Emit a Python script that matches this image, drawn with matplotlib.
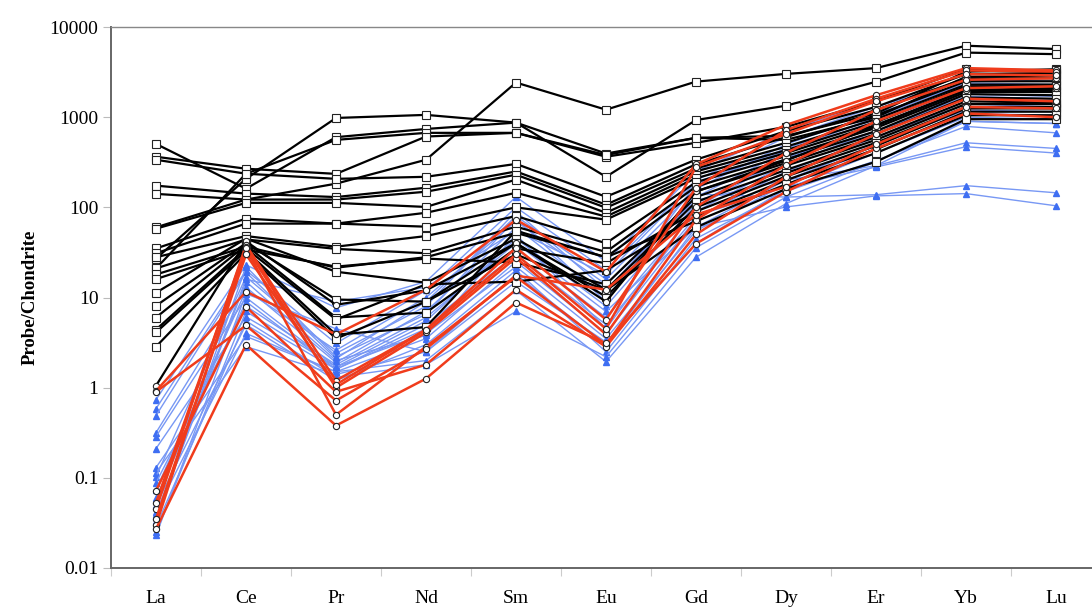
import numpy as np
import matplotlib.pyplot as plt
from matplotlib.ticker import NullLocator

elements = ['La', 'Ce', 'Pr', 'Nd', 'Sm', 'Eu', 'Gd', 'Dy', 'Er', 'Yb', 'Lu']

# black group (square markers)
black_series = [
    [60, 122, 183, 337, 2420, 1210, 2480, 3020, 3500, 6200, 5700],
    [27, 207, 980, 1060, 870, 218, 930, 1340, 2470, 5200, 5000],
    [505, 161, 600, 740, 870, 395, 590, 620, 1100, 3200, 3400],
    [21, 236, 560, 670, 670, 364, 520, 780, 1500, 3400, 3300],
    [364, 268, 235, 610, 670, 380, 590, 560, 1000, 2800, 2900],
    [337, 236, 207, 218, 303, 131, 338, 700, 1300, 3000, 3100],
    [174, 142, 130, 165, 250, 107, 300, 600, 1200, 2700, 2700],
    [141, 122, 122, 149, 230, 99, 270, 520, 1050, 2500, 2500],
    [58, 112, 112, 101, 203, 87, 250, 470, 950, 2300, 2300],
    [35, 75, 66, 87, 145, 79, 230, 430, 880, 2200, 2200],
    [31, 66, 66, 61, 100, 73, 210, 400, 820, 2000, 2000],
    [28, 48, 36.6, 48, 80, 40, 190, 370, 760, 1900, 1900],
    [21, 44, 34.6, 31, 61, 32, 170, 340, 700, 1800, 1750],
    [18, 36.6, 21.4, 28, 52, 28, 150, 310, 650, 1650, 1600],
    [16, 34, 22, 27, 24.4, 14, 130, 290, 600, 1500, 1450],
    [11.3, 45, 19.3, 14.6, 45, 12.2, 115, 260, 560, 1400, 1400],
    [8.1, 40, 9.5, 9, 40, 10.2, 100, 240, 520, 1300, 1300],
    [6.0, 38, 6.0, 6.8, 35, 24, 90, 220, 480, 1250, 1250],
    [4.4, 35, 5.7, 14, 15, 20, 80, 200, 440, 1150, 1150],
    [4.1, 33, 3.87, 4.7, 55, 28, 70, 180, 400, 1050, 1050],
    [2.85, 31, 3.5, 9, 30, 12, 60, 160, 320, 950, 950],
]
# black line with round markers
black_round = [1.05, 42, 8.3, 12, 40, 9, 150, 330, 800, 2000, 2100]

# red group (round markers)
red_series = [
    [0.92, 11.6, 3.9, 12.2, 73, 19.3, 300, 820, 1750, 3500, 3300],
    [0.045, 38, 1.2, 4.4, 35.6, 5.7, 165, 720, 1600, 3300, 3200],
    [0.053, 36, 1.0, 4.1, 27.6, 3.9, 101, 400, 1200, 2600, 2700],
    [0.03, 35, 0.5, 2.85, 17, 3.0, 73, 295, 900, 2100, 2200],
    [0.072, 7.9, 0.9, 1.8, 12.2, 2.85, 50, 218, 650, 1600, 1500],
    [0.027, 3.0, 0.38, 1.26, 8.8, 3.1, 39.5, 149, 450, 1100, 1000],
    [0.9, 4.9, 0.72, 2.7, 17.5, 12.2, 83, 170, 500, 1300, 1250],
    [0.035, 30, 1.08, 4.4, 30, 4.5, 280, 650, 1500, 3000, 2900],
]

# blue group (triangle markers)
blue_series = [
    [0.736, 23, 7.7, 15, 131, 25, 250, 700, 1500, 3000, 2900],
    [0.585, 20, 3.1, 12, 100, 20, 200, 600, 1300, 2600, 2500],
    [0.49, 19, 2.1, 9, 80, 16, 160, 500, 1100, 2300, 2200],
    [0.317, 13, 1.9, 7, 60, 10, 130, 420, 900, 2000, 1900],
    [0.287, 10, 1.7, 5.5, 45, 8, 110, 350, 800, 1800, 1700],
    [0.211, 6.1, 1.6, 4.5, 35, 6, 90, 300, 700, 1600, 1500],
    [0.13, 3.7, 1.5, 3.5, 25, 4, 75, 250, 600, 1400, 1300],
    [0.114, 2.85, 1.4, 2.5, 18, 3, 60, 200, 500, 1200, 1150],
    [0.103, 17, 2.4, 8, 90, 12, 140, 130, 138, 174, 145],
    [0.088, 8, 1.8, 6, 40, 7, 60, 101, 134, 142, 104],
    [0.074, 12, 2.6, 10, 70, 14, 120, 200, 290, 520, 450],
    [0.06, 9, 1.6, 5, 30, 5, 80, 170, 280, 470, 400],
    [0.05, 5, 1.2, 3, 20, 2.5, 45, 150, 330, 790, 670],
    [0.042, 4, 1.5, 2, 12, 1.94, 28, 110, 290, 900, 850],
    [0.037, 15, 2.0, 3.8, 50, 4.5, 100, 350, 700, 1700, 1600],
    [0.033, 22, 2.2, 6.5, 75, 9, 180, 450, 950, 2100, 2000],
    [0.029, 5.5, 1.3, 1.8, 7, 2.2, 35.7, 130, 320, 900, 850],
    [0.025, 7, 1.7, 4, 22, 3.5, 55, 180, 450, 1100, 1050],
    [0.023, 11, 4.5, 2.5, 15, 3.2, 40, 160, 400, 1000, 950],
    [0.04, 16, 9, 13, 55, 18, 190, 420, 1000, 2400, 2300],
]

yticks = [0.01, 0.1, 1, 10, 100, 1000, 10000]
ytick_labels = ['0.01', '0.1', '1', '10', '100', '1000', '10000']

plt.rcParams['font.family'] = ['Liberation Serif', 'DejaVu Serif']

fig = plt.figure(figsize=(10.92, 6.12), dpi=100)
ax = fig.add_axes([111/1092, 44/612, 990/1092, 541/612])

x = np.arange(len(elements))

for s in blue_series:
    ax.plot(x, s, '-', color='#7898f4', lw=1.0, marker='^', ms=4.5,
            mfc='#3e6ef2', mec='#3e6ef2', zorder=2)

for s in black_series:
    ax.plot(x, s, '-', color='black', lw=1.6, marker='s', ms=5.5,
            mfc='white', mec='#222222', mew=0.8, zorder=3)
ax.plot(x, black_round, '-', color='black', lw=1.6, marker='o', ms=4.5,
        mfc='white', mec='#222222', mew=0.8, zorder=3)

for s in red_series:
    ax.plot(x, s, '-', color='#f03c1c', lw=1.8, marker='o', ms=4.5,
            mfc='white', mec='#222222', mew=0.8, zorder=4)

ax.set_yscale('log')
ax.set_ylim(0.01, 10000)
ax.set_yticks(yticks)
ax.set_yticklabels(ytick_labels, fontsize=14)
ax.yaxis.set_minor_locator(NullLocator())
ax.tick_params(axis='y', which='major', direction='out', length=6,
               color='#bbbbbb', pad=3)

ax.set_xlim(-0.5, 10.5)
ax.set_xticks(np.arange(-0.5, 11, 1))
ax.set_xticklabels([])
ax.set_xticks(x, minor=True)
ax.set_xticklabels(elements, minor=True, fontsize=14)
ax.tick_params(axis='x', which='major', direction='out', length=6, color='#cccccc')
ax.tick_params(axis='x', which='minor', length=0, pad=16)

ax.set_ylabel('Probe/Chondrite', fontsize=13.5, fontweight='bold', labelpad=8)

for side in ['left', 'bottom']:
    ax.spines[side].set_color('#666666')
    ax.spines[side].set_linewidth(1.4)
ax.spines['top'].set_color('#888888')
ax.spines['top'].set_linewidth(1.0)
ax.spines['right'].set_visible(False)

fig.savefig('out.png', dpi=100, facecolor='white')
